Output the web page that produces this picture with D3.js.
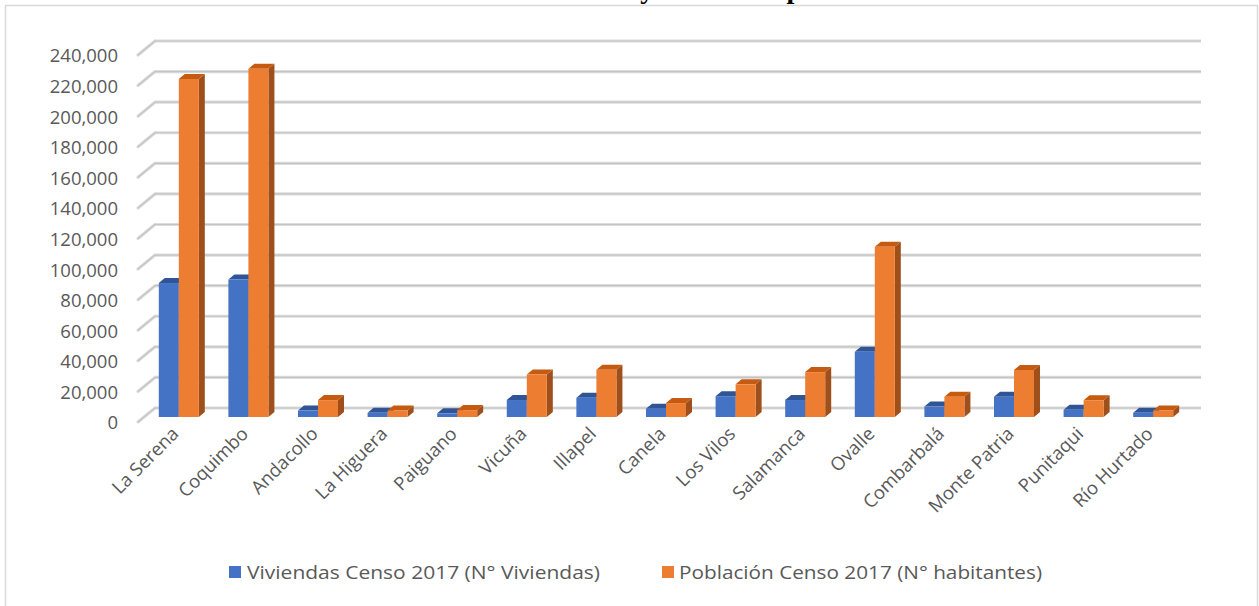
<!DOCTYPE html>
<html>
<head>
<meta charset="utf-8">
<script src="https://cdn.jsdelivr.net/npm/d3@7"></script>
<style>
  html, body { margin: 0; padding: 0; background: #fff; }
  svg { display: block; }
</style>
</head>
<body>
<svg id="chart" width="1259" height="606"></svg>
<script>
const categories = ["La Serena", "Coquimbo", "Andacollo", "La Higuera", "Paiguano", "Vicuña", "Illapel", "Canela", "Los Vilos", "Salamanca", "Ovalle", "Combarbalá", "Monte Patria", "Punitaqui", "Río Hurtado"];
const viviendas = [87600, 89900, 4200, 2700, 2400, 11100, 12600, 5400, 13600, 11100, 42600, 6800, 13200, 4700, 2700];
const poblacion = [221054, 227730, 11044, 4241, 4497, 27771, 30848, 9093, 21382, 29347, 111272, 13322, 30751, 10956, 4278];
const seriesNames = ["Viviendas Censo 2017 (N° Viviendas)", "Población Censo 2017 (N° habitantes)"];
const yTicks = [0, 20000, 40000, 60000, 80000, 100000, 120000, 140000, 160000, 180000, 200000, 220000, 240000];
const titleText = "Viviendas y Población por comuna";

const colors = ["#4472C4", "#ED7D31"];
const topColors = ["#2F5597", "#C55A11"];
const sideColors = ["#2A4D8C", "#9E4F1C"];

const svg = d3.select("#chart");

// chart border
svg.append("rect").attr("x", 5.5).attr("y", 5.5).attr("width", 1252).attr("height", 610)
  .attr("fill", "none").attr("stroke", "#d9d9d9").attr("stroke-width", 1.5);

// title (cut off at the top edge, as in the reference)
svg.append("text").attr("x", 516).attr("y", -2.5).attr("text-anchor", "start")
  .attr("font-family", "Liberation Serif").attr("font-weight", "bold").attr("font-size", 28)
  .attr("fill", "#000").text(titleText);

const y = d3.scaleLinear().domain([0, 240000]).range([417, 50]);
const x = d3.scaleBand().domain(categories).range([144, 1188]).paddingInner(0.425).paddingOuter(0.2125);
const xs = d3.scaleBand().domain([0, 1]).range([0, x.bandwidth()]);

const backDx = 17, backDy = -14, frontY = 5;
const wallLeft = 155, wallRight = 1201;

// gridlines (back wall + left floor diagonals)
const grid = svg.append("g");
yTicks.forEach(v => {
  const yb = y(v) + frontY + backDy;
  const yf = y(v) + frontY;
  [["#dcdcdc", 3.2], ["#c4c4c4", 1.2]].forEach(([c, w]) => {
    grid.append("line").attr("x1", wallLeft).attr("x2", wallRight).attr("y1", yb).attr("y2", yb)
      .attr("stroke", c).attr("stroke-width", w);
    grid.append("line").attr("x1", wallLeft - backDx).attr("x2", wallLeft).attr("y1", yf).attr("y2", yb)
      .attr("stroke", c).attr("stroke-width", w).attr("stroke-linecap", "round");
  });
});

// y tick labels
const yAxis = d3.axisLeft(y).tickValues(yTicks).tickFormat(d3.format(",")).tickSize(0).tickPadding(0);
const yg = svg.append("g").attr("transform", `translate(118, ${frontY + 1})`).call(yAxis);
yg.select(".domain").remove();
yg.selectAll("text").attr("font-family", "Open Sans").attr("font-size", 18.5).attr("fill", "#595959");

// bars (3D columns)
const dx = 6, dy = -5;
const bars = svg.append("g");
categories.forEach((c, i) => {
  [viviendas[i], poblacion[i]].forEach((v, s) => {
    const x0 = x(c) + xs(s), x1 = x0 + xs.bandwidth();
    const yt = y(v), yb0 = y(0);
    const g = bars.append("g");
    g.append("path").attr("d", `M${x1},${yb0}L${x1 + dx},${yb0 + dy}L${x1 + dx},${yt + dy}L${x1},${yt}Z`)
      .attr("fill", sideColors[s]);
    g.append("path").attr("d", `M${x0},${yt}L${x1},${yt}L${x1 + dx},${yt + dy}L${x0 + dx},${yt + dy}Z`)
      .attr("fill", topColors[s]);
    g.append("rect").attr("x", x0).attr("y", yt).attr("width", x1 - x0).attr("height", yb0 - yt)
      .attr("fill", colors[s]);
  });
});

// x labels
const xl = svg.append("g");
categories.forEach(c => {
  const cx = x(c) + x.bandwidth() / 2;
  xl.append("text").attr("transform", `translate(${cx + 1}, 435) rotate(-45)`)
    .attr("text-anchor", "end").attr("font-family", "Open Sans").attr("font-size", 18.5)
    .attr("fill", "#595959").text(c);
});

// legend
const legendItems = [{x: 229, tx: 247, len: 353}, {x: 662, tx: 679, len: 363}];
seriesNames.forEach((n, s) => {
  svg.append("rect").attr("x", legendItems[s].x).attr("y", 566).attr("width", 12).attr("height", 12).attr("fill", colors[s]);
  svg.append("text").attr("x", legendItems[s].tx).attr("y", 572).attr("dominant-baseline", "central")
    .attr("font-family", "Open Sans").attr("font-size", 19).attr("fill", "#595959")
    .attr("textLength", legendItems[s].len).attr("lengthAdjust", "spacingAndGlyphs").text(n);
});
</script>
</body>
</html>
